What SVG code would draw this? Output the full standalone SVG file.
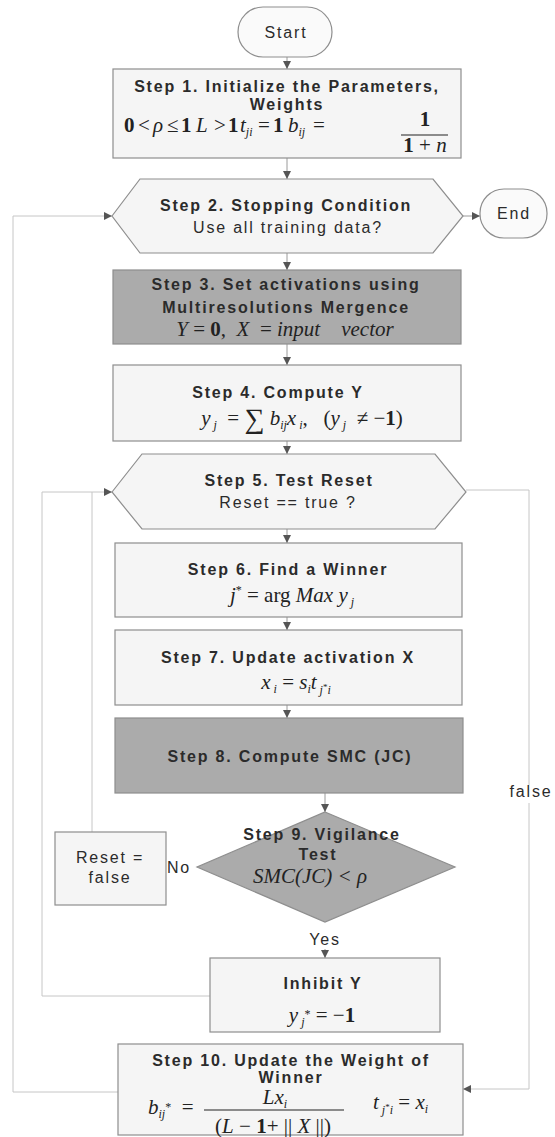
<svg xmlns="http://www.w3.org/2000/svg" width="555" height="1137" viewBox="0 0 555 1137">
  <style>
    .t { font-family: "Liberation Sans", Arial, sans-serif; font-size: 16px; fill: #2b2b2b; letter-spacing: 1.8px; text-anchor: middle; }
    .b { font-weight: bold; }
    .m { font-family: "Liberation Serif", "Times New Roman", serif; font-size: 21px; fill: #222; }
    .i { font-style: italic; }
    .bf { font-weight: bold; }
    .sub { font-size: 12px; }
    .box { fill: #f5f5f5; stroke: #8e8e8e; stroke-width: 1.2; }
    .term { fill: #fafafa; stroke: #8e8e8e; stroke-width: 1.2; }
    .dark { fill: #ababab; stroke: #8e8e8e; stroke-width: 1.2; }
    .flow { fill: none; stroke: #9a9a9a; stroke-width: 1; }
    .wire { fill: none; stroke: #c6c6c6; stroke-width: 1; }
  </style>
  <defs>
    <marker id="arr" viewBox="0 0 10 10" refX="10" refY="5" markerWidth="9" markerHeight="8" markerUnits="userSpaceOnUse" orient="auto">
      <path d="M0,0 L10,5 L0,10 Z" fill="#555"/>
    </marker>
  </defs>
  <rect width="555" height="1137" fill="#ffffff"/>

  <!-- connectors -->
  <g id="connectors">
    <line class="flow" x1="287" y1="57" x2="287" y2="69" marker-end="url(#arr)"/>
    <line class="flow" x1="287" y1="158" x2="287" y2="179" marker-end="url(#arr)"/>
    <line class="flow" x1="463" y1="216" x2="480" y2="216" marker-end="url(#arr)"/>
    <line class="flow" x1="287" y1="253" x2="287" y2="270" marker-end="url(#arr)"/>
    <line class="flow" x1="287" y1="344" x2="287" y2="365" marker-end="url(#arr)"/>
    <line class="flow" x1="287" y1="441" x2="287" y2="454" marker-end="url(#arr)"/>
    <line class="flow" x1="287" y1="529" x2="287" y2="543" marker-end="url(#arr)"/>
    <line class="flow" x1="287" y1="617" x2="287" y2="630" marker-end="url(#arr)"/>
    <line class="flow" x1="287" y1="705" x2="287" y2="718" marker-end="url(#arr)"/>
    <line class="flow" x1="325" y1="793" x2="325" y2="812" marker-end="url(#arr)"/>
    <line class="flow" x1="325" y1="949" x2="325" y2="958" marker-end="url(#arr)"/>
    <!-- outer loop: Step 10 back to Step 2 -->
    <polyline class="wire" points="118,1092 13,1092 13,216 112,216" marker-end="url(#arr)"/>
    <!-- inner loop: Inhibit Y back to Step 5 -->
    <polyline class="wire" points="210,996 42,996 42,492 112,492" marker-end="url(#arr)"/>
    <!-- Reset = false back to Step 5 -->
    <line class="wire" x1="92" y1="832" x2="92" y2="492"/>
    <!-- Step 5 false branch to Step 10 -->
    <polyline class="wire" points="466,490 529,490 529,785"/>
    <polyline class="wire" points="529,803 529,1089 463,1089" marker-end="url(#arr)"/>
    <text class="t" x="531" y="797">false</text>
    <text class="t" x="325" y="945">Yes</text>
    <text class="t" x="167" y="873" style="text-anchor:start">No</text>
  </g>

  <g id="start">
    <rect class="term" x="238" y="7" width="94" height="50" rx="25"/>
    <text class="t" x="286" y="38">Start</text>
  </g>

  <g id="step1">
    <rect class="box" x="113" y="69" width="348" height="89"/>
    <text class="t b" x="287" y="92">Step 1. Initialize the Parameters,</text>
    <text class="t b" x="287" y="110">Weights</text>
    <text class="m" y="132">
      <tspan x="124" class="bf">0</tspan><tspan x="138">&lt;</tspan><tspan x="153" class="i">ρ</tspan><tspan x="167">≤</tspan><tspan x="181" class="bf">1</tspan><tspan x="196" class="i">L</tspan><tspan x="214">&gt;</tspan><tspan x="228" class="bf">1</tspan><tspan x="240" class="i">t</tspan><tspan class="sub i" dy="4">ji</tspan><tspan x="258" dy="-4">=</tspan><tspan x="273" class="bf">1</tspan><tspan x="288" class="i">b</tspan><tspan class="sub i" dy="4">ij</tspan><tspan x="313" dy="-4">=</tspan>
    </text>
    <text class="m bf" x="425" y="126" text-anchor="middle">1</text>
    <line x1="401" y1="135" x2="448" y2="135" stroke="#222" stroke-width="1.2"/>
    <text class="m" x="425" y="152" text-anchor="middle"><tspan class="bf">1</tspan> + <tspan class="i">n</tspan></text>
  </g>

  <g id="step2">
    <polygon class="box" points="112,216 140,179 433,179 463,216 433,253 140,253"/>
    <text class="t b" x="286" y="211">Step 2. Stopping Condition</text>
    <text class="t" x="288" y="233">Use all training data?</text>
  </g>

  <g id="end">
    <rect class="term" x="480" y="189" width="67" height="49" rx="24"/>
    <text class="t" x="514" y="219">End</text>
  </g>

  <g id="step3">
    <rect class="dark" x="113" y="270" width="348" height="74"/>
    <text class="t b" x="286" y="290">Step 3. Set activations using</text>
    <text class="t b" x="286" y="313">Multiresolutions Mergence</text>
    <text class="m" x="285" y="336" text-anchor="middle"><tspan class="i">Y</tspan> = <tspan class="bf">0</tspan>,&#160; <tspan class="i">X</tspan>&#160; = <tspan class="i">input&#160;&#160;&#160; vector</tspan></text>
  </g>

  <g id="step4">
    <rect class="box" x="113" y="365" width="348" height="76"/>
    <text class="t b" x="278" y="398">Step 4. Compute Y</text>
    <text class="m" x="302" y="425" text-anchor="middle"><tspan class="i">y</tspan><tspan class="sub i" dy="4">&#160;j</tspan><tspan dy="-4">&#160; = </tspan><tspan font-size="28" dy="3">∑</tspan><tspan dy="-3">&#160;</tspan><tspan class="i">b</tspan><tspan class="sub i" dy="4">ij</tspan><tspan class="i" dy="-4">x</tspan><tspan class="sub i" dy="4">&#160;i</tspan><tspan dy="-4">,&#160;&#160; (</tspan><tspan class="i">y</tspan><tspan class="sub i" dy="4">&#160;j</tspan><tspan dy="-4">&#160; ≠ −</tspan><tspan class="bf">1</tspan>)</text>
  </g>

  <g id="step5">
    <polygon class="box" points="112,492 142,454 435,454 466,492 435,529 142,529"/>
    <text class="t b" x="289" y="486">Step 5. Test Reset</text>
    <text class="t" x="288" y="508">Reset == true ?</text>
  </g>

  <g id="step6">
    <rect class="box" x="115" y="543" width="347" height="74"/>
    <text class="t b" x="288" y="575">Step 6. Find a Winner</text>
    <text class="m" x="292" y="602" text-anchor="middle"><tspan class="i">j</tspan><tspan class="sub" dy="-8">*</tspan><tspan dy="8"> = arg </tspan><tspan class="i">Max y</tspan><tspan class="sub i" dy="4">&#160;j</tspan></text>
  </g>

  <g id="step7">
    <rect class="box" x="115" y="630" width="347" height="75"/>
    <text class="t b" x="288" y="663">Step 7. Update activation X</text>
    <text class="m" x="296" y="689" text-anchor="middle"><tspan class="i">x</tspan><tspan class="sub i" dy="4">&#160;i</tspan><tspan dy="-4"> = </tspan><tspan class="i">s</tspan><tspan class="sub i" dy="4">i</tspan><tspan class="i" dy="-4">t</tspan><tspan class="sub i" dy="5">&#160;j</tspan><tspan font-size="9" dy="-4">*</tspan><tspan class="sub i" dy="4">i</tspan></text>
  </g>

  <g id="step8">
    <rect class="dark" x="115" y="718" width="348" height="75"/>
    <text class="t b" x="290" y="762">Step 8. Compute SMC (JC)</text>
  </g>

  <g id="step9">
    <polygon class="dark" points="325,812 455,867 325,922 197,867"/>
    <text class="t b" x="322" y="840">Step 9. Vigilance</text>
    <text class="t b" x="318" y="860">Test</text>
    <text class="m i" x="310" y="883" text-anchor="middle">SMC(JC) &lt; ρ</text>
  </g>

  <g id="reset-false">
    <rect class="box" x="55" y="832" width="111" height="73"/>
    <text class="t" x="110" y="863">Reset =</text>
    <text class="t" x="110" y="883">false</text>
  </g>

  <g id="inhibit-y">
    <rect class="box" x="210" y="958" width="230" height="74"/>
    <text class="t b" x="323" y="989">Inhibit Y</text>
    <text class="m" x="322" y="1022" text-anchor="middle"><tspan class="i">y</tspan><tspan class="sub i" dy="4">&#160;j</tspan><tspan class="sub" dy="-8">*</tspan><tspan dy="4"> = −</tspan><tspan class="bf">1</tspan></text>
  </g>

  <g id="step10">
    <rect class="box" x="118" y="1044" width="345" height="91"/>
    <text class="t b" x="291" y="1066">Step 10. Update the Weight of</text>
    <text class="t b" x="291" y="1083">Winner</text>
    <text class="m" x="148" y="1114"><tspan class="i">b</tspan><tspan class="sub i" dy="4">ij</tspan><tspan class="sub" dy="-7">*</tspan><tspan dy="3">&#160; =</tspan></text>
    <text class="m" x="275" y="1104" text-anchor="middle"><tspan class="i">Lx</tspan><tspan class="sub i" dy="4">i</tspan></text>
    <line x1="204" y1="1110" x2="344" y2="1110" stroke="#222" stroke-width="1.2"/>
    <text class="m" x="273" y="1133" text-anchor="middle">(<tspan class="i">L</tspan> − <tspan class="bf">1</tspan>+ || <tspan class="i">X</tspan> ||)</text>
    <text class="m" x="373" y="1109"><tspan class="i">t</tspan><tspan class="sub i" dy="5">&#160;j</tspan><tspan font-size="9" dy="-4">*</tspan><tspan class="sub i" dy="4">i</tspan><tspan dy="-5"> = </tspan><tspan class="i">x</tspan><tspan class="sub i" dy="4">i</tspan></text>
  </g>
</svg>
